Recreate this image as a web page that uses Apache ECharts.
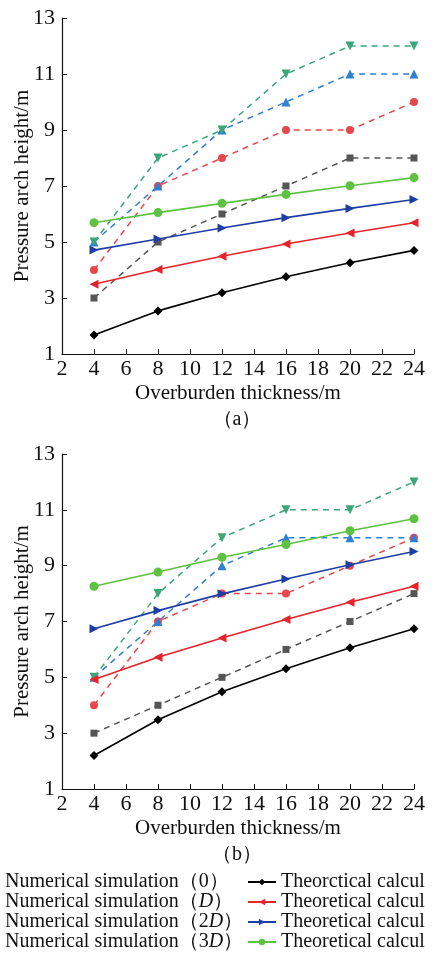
<!DOCTYPE html>
<html>
<head>
<meta charset="utf-8">
<script src="https://cdn.jsdelivr.net/npm/echarts@6/dist/echarts.min.js"></script>
<style>
html,body{margin:0;padding:0;background:#fff;}
#chart{width:432px;height:966px;}
</style>
</head>
<body>
<div id="chart"></div>
<script>
// ---- data ----
var thickness = [4, 8, 12, 16, 20, 24];
var yTicks = [1, 3, 5, 7, 9, 11, 13];

// Chart (a)
var numA_0  = [3, 5, 6, 7, 8, 8];
var numA_D  = [4, 7, 8, 9, 9, 10];
var numA_2D = [5, 7, 9, 10, 11, 11];
var numA_3D = [5, 8, 9, 11, 12, 12];
var theoA_0  = [1.68, 2.54, 3.19, 3.76, 4.26, 4.70];
var theoA_D  = [3.49, 4.02, 4.49, 4.93, 5.32, 5.69];
var theoA_2D = [4.71, 5.11, 5.50, 5.87, 6.20, 6.52];
var theoA_3D = [5.69, 6.05, 6.38, 6.70, 7.01, 7.30];

// Chart (b)
var numB_0  = [3, 4, 5, 6, 7, 8];
var numB_D  = [4, 7, 8, 8, 9, 10];
var numB_2D = [5, 7, 9, 10, 10, 10];
var numB_3D = [5, 8, 10, 11, 11, 12];
var theoB_0  = [2.20, 3.48, 4.48, 5.31, 6.06, 6.74];
var theoB_D  = [4.92, 5.72, 6.41, 7.07, 7.69, 8.26];
var theoB_2D = [6.74, 7.39, 7.99, 8.52, 9.03, 9.51];
var theoB_3D = [8.26, 8.77, 9.30, 9.76, 10.25, 10.68];

var numNames = ['Numerical simulation（0）', 'Numerical simulation（D）', 'Numerical simulation（2D）', 'Numerical simulation（3D）'];
var theoNames = ['Theorctical calculation（0）', 'Theoretical calculation（D）', 'Theoretical calculation（2D）', 'Theoretical calculation（3D）'];
var theoVisible = ['Theorctical calcul', 'Theoretical calcul', 'Theoretical calcul', 'Theoretical calcul'];
var xAxisName = 'Overburden thickness/m';
var yAxisName = 'Pressure arch height/m';
var panelLabels = ['（a）', '（b）'];

// ---- styles ----
var FONT = '"Liberation Serif", "Times New Roman", serif';
var numColors = ['#555555', '#e8474b', '#2f7fd2', '#3aa679'];
var numSymbols = ['rect', 'circle', 'triangle', 'triangle'];
var numRot = [0, 0, 0, 180];
var numSize = [7, 8, 9, 9];
var theoColors = ['#000000', '#e5232a', '#1d3ea4', '#5cc23f'];
var theoSymbols = ['diamond', 'triangle', 'triangle', 'circle'];
var theoRot = [0, 90, -90, 0];
var theoSize = [9, 9, 9, 9];

function pairs(vals) {
  return thickness.map(function (x, i) { return [x, vals[i]]; });
}

var numData = [[numA_0, numA_D, numA_2D, numA_3D], [numB_0, numB_D, numB_2D, numB_3D]];
var theoData = [[theoA_0, theoA_D, theoA_2D, theoA_3D], [theoB_0, theoB_D, theoB_2D, theoB_3D]];

var series = [];
[0, 1].forEach(function (g) {
  for (var k = 0; k < 4; k++) {
    series.push({
      type: 'line', name: numNames[k], xAxisIndex: g, yAxisIndex: g,
      data: pairs(numData[g][k]),
      symbol: numSymbols[k], symbolRotate: numRot[k], symbolSize: numSize[k],
      lineStyle: { color: numColors[k], width: 1.5, type: [6, 5] },
      itemStyle: { color: numColors[k] },
      z: 2, animation: false
    });
  }
  for (var k2 = 0; k2 < 4; k2++) {
    series.push({
      type: 'line', name: theoNames[k2], xAxisIndex: g, yAxisIndex: g,
      data: pairs(theoData[g][k2]),
      symbol: theoSymbols[k2], symbolRotate: theoRot[k2], symbolSize: theoSize[k2],
      lineStyle: { color: theoColors[k2], width: 1.6 },
      itemStyle: { color: theoColors[k2] },
      z: 3, animation: false
    });
  }
});

var grids = [
  { left: 62, top: 18, width: 352, height: 336, outerBoundsMode: 'none', containLabel: false },
  { left: 62, top: 454, width: 352, height: 335, outerBoundsMode: 'none', containLabel: false }
];

function xAxis(i) {
  return {
    type: 'value', gridIndex: i, min: 2, max: 24, interval: 2,
    name: xAxisName, nameLocation: 'middle', nameGap: 29, nameMoveOverlap: false,
    nameTextStyle: { fontFamily: FONT, fontSize: 21, color: '#111' },
    axisLine: { lineStyle: { color: '#111', width: 1.2 } },
    axisTick: { inside: true, length: 5, lineStyle: { color: '#111' } },
    axisLabel: { fontFamily: FONT, fontSize: 22, color: '#111', margin: 4 },
    splitLine: { show: false }
  };
}
function yAxis(i) {
  return {
    type: 'value', gridIndex: i, min: 1, max: 13,
    name: yAxisName, nameLocation: 'middle', nameGap: 29, nameMoveOverlap: false,
    nameTextStyle: { fontFamily: FONT, fontSize: 21, color: '#111' },
    axisLine: { show: true, lineStyle: { color: '#111', width: 1.2 } },
    axisTick: { show: true, inside: true, length: 5, customValues: yTicks, lineStyle: { color: '#111' } },
    axisLabel: { fontFamily: FONT, fontSize: 22, color: '#111', margin: 7, customValues: yTicks },
    splitLine: { show: false }
  };
}

var chart = echarts.init(document.getElementById('chart'), null, { renderer: 'canvas' });
chart.setOption({
  backgroundColor: '#fff',
  animation: false,
  grid: grids,
  xAxis: [xAxis(0), xAxis(1)],
  yAxis: [yAxis(0), yAxis(1)],
  legend: [
    {
      orient: 'vertical', left: 0, top: 872, padding: 0, itemWidth: 0, itemHeight: 8, itemGap: 0,
      data: numNames.map(function (n) { return { name: n, icon: 'none' }; }),
      selectedMode: false,
      formatter: function (name) {
        var m = name.match(/^(.*（)(\d?)(D?)(）)$/);
        if (!m) return name;
        var s = '{n|' + m[1] + '}';
        if (m[2]) s += '{n|' + m[2] + '}';
        if (m[3]) s += '{i|' + m[3] + '}';
        s += '{n|' + m[4] + '}';
        return s;
      },
      textStyle: {
        fontFamily: FONT, fontSize: 20, color: '#111',
        rich: {
          n: { fontFamily: FONT, fontSize: 20, color: '#111' },
          i: { fontFamily: FONT, fontSize: 20, color: '#111', fontStyle: 'italic' }
        }
      }
    },
    {
      orient: 'vertical', left: 247, top: 872, padding: 0, itemWidth: 28, itemHeight: 8, itemGap: 0,
      data: theoNames,
      selectedMode: false,
      formatter: function (name) { return theoVisible[theoNames.indexOf(name)]; },
      textStyle: { fontFamily: FONT, fontSize: 20, color: '#111' }
    }
  ],
  graphic: [
    { type: 'text', x: 237, y: 420, style: { text: panelLabels[0], textAlign: 'center', textVerticalAlign: 'middle', fontFamily: FONT, fontSize: 20, fill: '#111' } },
    { type: 'text', x: 237, y: 855, style: { text: panelLabels[1], textAlign: 'center', textVerticalAlign: 'middle', fontFamily: FONT, fontSize: 20, fill: '#111' } }
  ],
  series: series
});
</script>
</body>
</html>
